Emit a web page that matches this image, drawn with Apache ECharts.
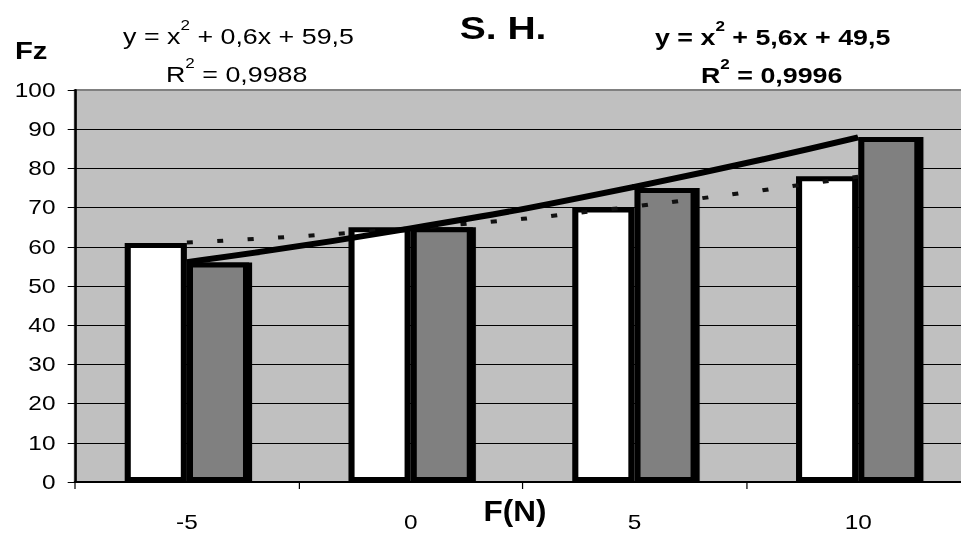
<!DOCTYPE html>
<html>
<head>
<meta charset="utf-8">
<script src="https://cdn.jsdelivr.net/npm/echarts@6/dist/echarts.min.js"></script>
<style>
  html, body { margin: 0; padding: 0; background: #fff; overflow: hidden; }
  /* The chart is laid out on a narrower canvas and widened horizontally,
     which gives the broad lettering and the wide vertical strokes. */
  #chart {
    width: 788px; height: 535px;
    transform: scaleX(1.2195);
    transform-origin: 0 0;
  }
</style>
</head>
<body>
<div id="chart"></div>
<script>
// Force levels F(N) on the category axis
const categories = ['-5', '0', '5', '10'];
// Measured Fz, first series (white bars)
const fzWhite = [61, 65, 70, 78];
// Measured Fz, second series (grey bars)
const fzGrey = [56, 65, 75, 88];
// Polynomial trend values at each category (y = x² + 0,6x + 59,5)
const trendWhite = [61.1, 64.7, 70.3, 77.9];
// Polynomial trend values at each category (y = x² + 5,6x + 49,5)
const trendGrey = [56.1, 64.7, 75.3, 87.9];
// Value axis ticks
const yTicks = [0, 10, 20, 30, 40, 50, 60, 70, 80, 90, 100];

const FONT = '"Liberation Sans", Arial, sans-serif';

const chart = echarts.init(document.getElementById('chart'), null, { renderer: 'svg' });

// Equation label with a raised "2"
function eqText(x, y, text, bold) {
  const w = bold ? 'bold' : 'normal';
  return {
    type: 'text', x: x, y: y,
    style: {
      text: text,
      textAlign: 'left',
      textVerticalAlign: 'middle',
      fontFamily: FONT,
      fill: '#000',
      rich: {
        m: { fontSize: 22, fontFamily: FONT, fontWeight: w, fill: '#000', lineHeight: 36 },
        s: { fontSize: 14, fontFamily: FONT, fontWeight: w, fill: '#000', lineHeight: 12, verticalAlign: 'top' }
      }
    }
  };
}

function plainText(x, y, text, size, align, sx) {
  return {
    type: 'text', x: x, y: y, scaleX: sx || 1,
    style: {
      text: text, textAlign: align, textVerticalAlign: 'middle',
      fontFamily: FONT, fontWeight: 'bold', fontSize: size, fill: '#000'
    }
  };
}

const option = {
  animation: false,
  backgroundColor: '#fff',
  grid: {
    left: 61.5, top: 90, width: 734, height: 392,
    outerBoundsMode: 'none',
    show: true, backgroundColor: '#C0C0C0', borderColor: '#808080', borderWidth: 2
  },
  xAxis: {
    type: 'category',
    data: categories,
    axisLine: { lineStyle: { color: '#000', width: 2 } },
    axisTick: { show: true, length: 7, lineStyle: { color: '#000', width: 1 } },
    axisLabel: { fontFamily: FONT, fontSize: 20, color: '#000', margin: 30 },
    splitLine: { show: false }
  },
  yAxis: {
    type: 'value',
    min: yTicks[0],
    max: yTicks[yTicks.length - 1],
    interval: yTicks[1] - yTicks[0],
    axisLine: { show: true, lineStyle: { color: '#000', width: 2 } },
    axisTick: { show: true, length: 6, lineStyle: { color: '#000', width: 1 } },
    axisLabel: { fontFamily: FONT, fontSize: 20, color: '#000', margin: 16 },
    splitLine: {
      show: true,
      lineStyle: {
        color: ['#000', '#000', '#000', '#000', '#000', '#000', '#000', '#000', '#000', '#000', '#808080'],
        width: 1
      }
    }
  },
  graphic: [
    plainText(12.3, 50.5, 'Fz', 24, 'left'),
    plainText(377, 28.5, 'S. H.', 32, 'left'),
    plainText(422.3, 511, 'F(N)', 30, 'center', 0.86),
    eqText(100.9, 36, '{m|y = x}{s|2}{m| + 0,6x + 59,5}', false),
    eqText(136.1, 74, '{m|R}{s|2}{m| = 0,9988}', false),
    eqText(537.1, 37.5, '{m|y = x}{s|2}{m| + 5,6x + 49,5}', true),
    eqText(574.8, 75.5, '{m|R}{s|2}{m| = 0,9996}', true)
  ],
  series: [
    {
      type: 'bar',
      data: fzWhite,
      barWidth: 51,
      barGap: '0%',
      itemStyle: { color: '#FFFFFF', borderColor: '#000', borderWidth: 5 }
    },
    {
      type: 'bar',
      data: fzGrey,
      barWidth: 51,
      barGap: '0%',
      itemStyle: {
        color: '#808080', borderColor: '#000', borderWidth: 5,
        shadowColor: '#000', shadowBlur: 0, shadowOffsetX: 2.5, shadowOffsetY: 0
      }
    },
    {
      type: 'line',
      data: trendWhite,
      smooth: true,
      symbol: 'none',
      lineStyle: { color: '#111', width: 4, type: [5, 20] },
      z: 5
    },
    {
      type: 'line',
      data: trendGrey,
      smooth: true,
      symbol: 'none',
      lineStyle: { color: '#000', width: 6 },
      z: 5
    }
  ]
};

chart.setOption(option);
</script>
</body>
</html>
